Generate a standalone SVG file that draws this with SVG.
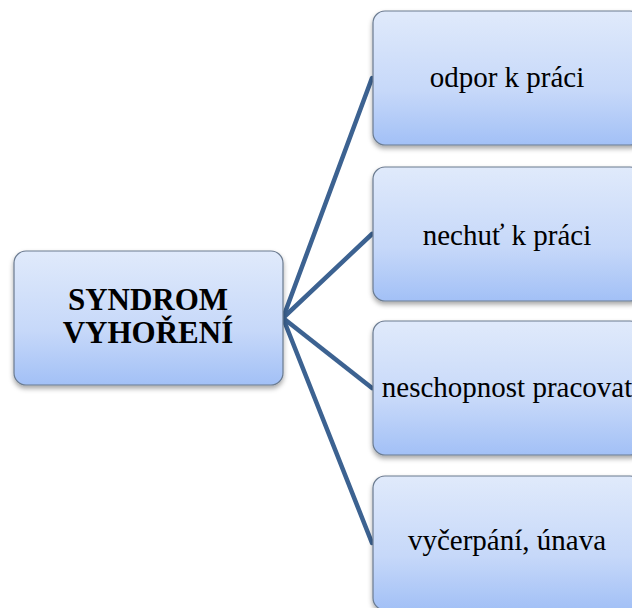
<svg xmlns="http://www.w3.org/2000/svg" width="632" height="608" viewBox="0 0 632 608">
<style>
.box{fill:url(#g);stroke:#6b7b90;stroke-width:1.2;filter:url(#sh)}
.t{font-family:"Liberation Serif","Times New Roman",serif;font-size:29px;fill:#000;text-anchor:middle}
.b{font-weight:bold;font-size:31px}
.c{stroke:#3c6291;stroke-width:4.5;fill:none;stroke-linecap:round}
</style>
<defs>
<linearGradient id="g" x1="0" y1="0" x2="0" y2="1">
<stop offset="0" stop-color="#e0eafb"/>
<stop offset="0.6" stop-color="#c6d8f9"/>
<stop offset="1" stop-color="#a2c0f6"/>
</linearGradient>
<filter id="sh" x="-10%" y="-10%" width="120%" height="130%">
<feDropShadow dx="0" dy="3" stdDeviation="2.5" flood-color="#000" flood-opacity="0.35"/>
</filter>
</defs>
<g id="connectors">
<line class="c" x1="283" y1="318" x2="372" y2="78"/>
<line class="c" x1="283" y1="318" x2="372" y2="234"/>
<line class="c" x1="283" y1="318" x2="372" y2="388"/>
<line class="c" x1="283" y1="318" x2="372" y2="543"/>
</g>
<g id="root">
<rect class="box" x="14" y="251" width="269" height="134" rx="12"/>
<text class="t b" x="148" y="310">SYNDROM</text>
<text class="t b" x="148" y="343">VYHOŘENÍ</text>
</g>
<g id="n1">
<rect class="box" x="373" y="11" width="269" height="134" rx="12"/>
<text class="t" x="507" y="87">odpor k práci</text>
</g>
<g id="n2">
<rect class="box" x="373" y="167" width="269" height="134" rx="12"/>
<text class="t" x="507" y="245">nechuť k práci</text>
</g>
<g id="n3">
<rect class="box" x="373" y="321" width="269" height="134" rx="12"/>
<text class="t" x="507" y="397">neschopnost pracovat</text>
</g>
<g id="n4">
<rect class="box" x="373" y="476" width="269" height="134" rx="12"/>
<text class="t" x="507" y="550">vyčerpání, únava</text>
</g>
</svg>
